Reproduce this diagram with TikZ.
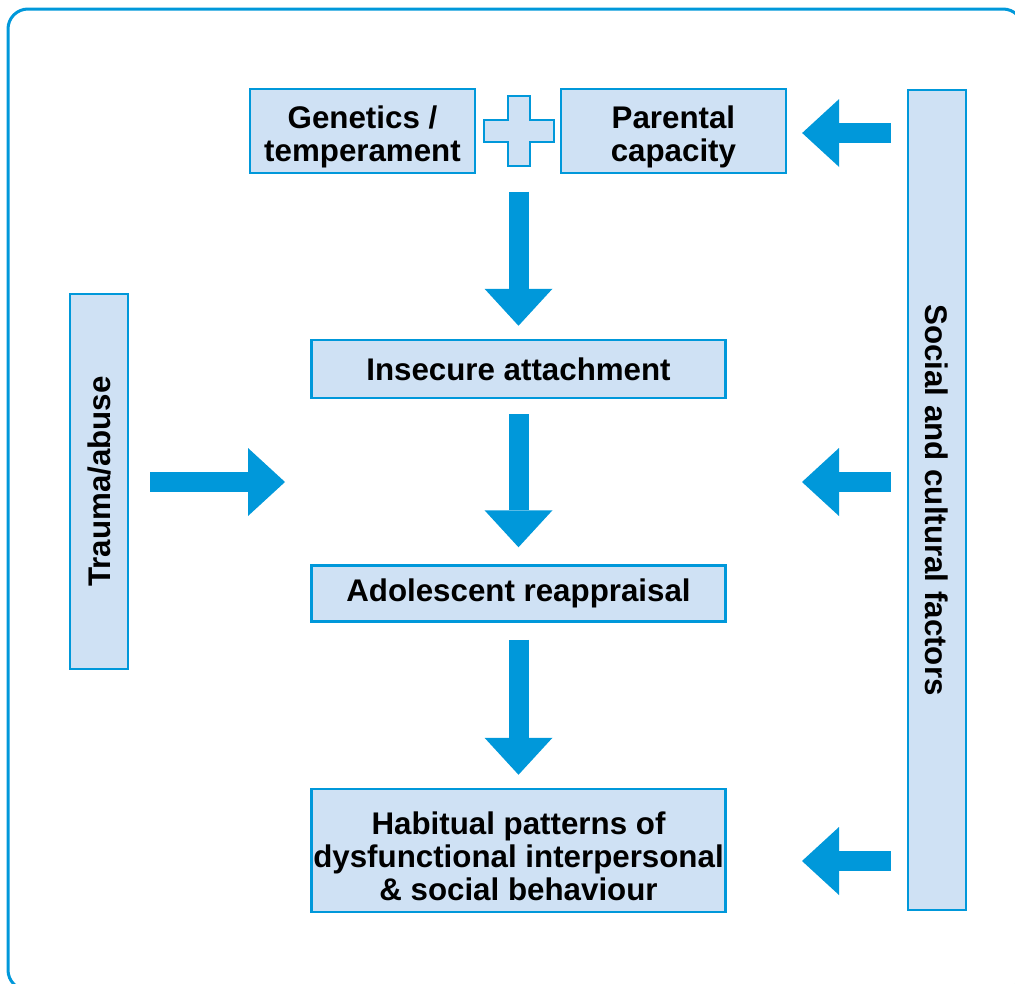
\documentclass[tikz,border=0pt]{standalone}
\usepackage{fontspec}
\setmainfont{Liberation Sans}
\usepackage{graphicx}
\usetikzlibrary{positioning,arrows.meta}
\definecolor{boxblue}{RGB}{0,152,218}
\definecolor{boxfill}{RGB}{207,225,244}
\tikzset{factor/.style = {draw=boxblue, fill=boxfill, line width=2.5pt, align=center, inner sep=0pt, font=\fontsize{31.3}{33}\selectfont\bfseries}}
\tikzset{topbox/.style = {factor, minimum width=225pt, minimum height=84pt}}
\tikzset{widebox/.style = {factor, minimum width=414pt, minimum height=58pt}}
\tikzset{sidebox/.style = {factor, minimum width=58pt}}
\tikzset{plusmark/.style = {draw=boxblue, fill=boxfill, line width=2.5pt}}
\tikzset{fat/.style = {draw=boxblue, line width=20pt, -{Triangle[width=68pt, length=37pt, line width=0pt]}}}
\tikzset{panelframe/.style = {draw=boxblue, line width=3pt, rounded corners=20pt}}

\begin{document}
\begin{tikzpicture}[x=1pt, y=-1pt, node distance=165pt]
  \useasboundingbox (0,0) rectangle (1015,983);
  \draw [panelframe] (8,9) rectangle (1023,990);

  \node [topbox] (genetics) at (362.5,131) {\rule{0pt}{35pt}Genetics /\\temperament};
  \node [minimum width=69pt, minimum height=71pt, inner sep=0pt, right=8pt of genetics] (plus) {};
  \node [topbox, right=6pt of plus] (parental) {\rule{0pt}{35pt}Parental\\capacity};
  \draw [plusmark] (plus.center) ++(-11,-35) -- ++(22,0) -- ++(0,24) -- ++(24,0) -- ++(0,22) -- ++(-24,0)
    -- ++(0,24) -- ++(-22,0) -- ++(0,-24) -- ++(-24,0) -- ++(0,-22) -- ++(24,0) -- cycle;

  \node [widebox] (insecure) at (518.5,369) {Insecure attachment};
  \node [widebox, below=of insecure, minimum height=56pt] (adolescent) {Adolescent reappraisal};
  \node [widebox, below=of adolescent, minimum height=123pt] (habitual) {\rule{0pt}{34pt}Habitual patterns of\\dysfunctional interpersonal\\\& social behaviour};

  \node [sidebox, minimum height=375pt] (trauma) at (99,481.5) {\rotatebox{90}{Trauma/abuse}};
  \node [sidebox, minimum height=820pt] (social) at (937,500) {\rotatebox{-90}{Social and cultural factors}};

  \coordinate (traumatip) at (285,482);
  \coordinate (midtip) at (802,482);
  \coordinate (lowtip) at (802,861);

  \draw [fat, shorten <=25pt, shorten >=13pt] (insecure.north |- plus.south) -- (insecure.north);
  \draw [fat, shorten <=15pt, shorten >=17pt] (insecure.south) -- (adolescent.north);
  \draw [fat, shorten <=17pt, shorten >=13pt] (adolescent.south) -- (habitual.north);

  \draw [fat, shorten <=21pt] (trauma.east |- traumatip) -- (traumatip);

  \draw [fat, shorten <=16pt, shorten >=15pt] (social.west |- 0,133) -- (parental.east |- 0,133);
  \draw [fat, shorten <=16pt] (social.west |- midtip) -- (midtip);
  \draw [fat, shorten <=16pt] (social.west |- lowtip) -- (lowtip);
\end{tikzpicture}
\end{document}
